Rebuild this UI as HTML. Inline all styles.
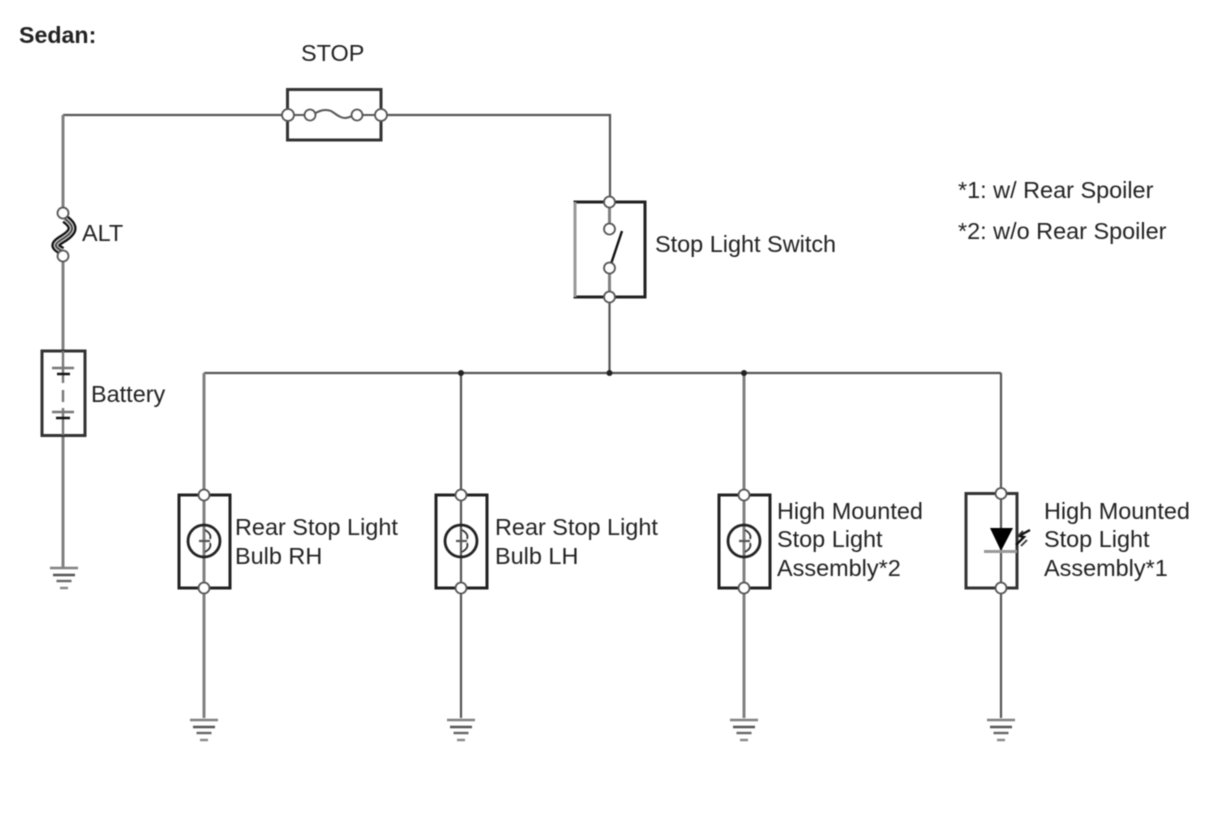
<!DOCTYPE html>
<html><head><meta charset="utf-8"><style>
html,body{margin:0;padding:0;background:#fff}
svg{display:block;filter:blur(.45px)}
text{font-family:"Liberation Sans",sans-serif;font-size:23.45px;fill:#222}
.w{stroke:#555;stroke-width:2.2;fill:none}
.g{stroke:#808080;stroke-width:3;fill:none}
.b{stroke:#333;stroke-width:3;fill:none}
.c{fill:#fff;stroke:#555;stroke-width:1.8}
.k{stroke:#222;stroke-width:3;fill:none}
</style></head><body>
<svg width="1210" height="814" viewBox="0 0 1210 814" xmlns="http://www.w3.org/2000/svg">
<defs>
<g id="gnd"><path d="M-14 0H14" stroke="#808080" stroke-width="2.600"/><path d="M-11 7H11" stroke="#555" stroke-width="2.400"/><path d="M-7.500 13H7.500" stroke="#666" stroke-width="2.400"/><path d="M-4 20H4" stroke="#888" stroke-width="2.400"/></g>
<g id="bulb"><circle r="16" fill="none" stroke="#222" stroke-width="2.800"/><path d="M1 -11Q8 -7 6 -2M6 2Q8 7 1 11" fill="none" stroke="#333" stroke-width="1.800"/><path d="M-5 0H6" stroke="#555" stroke-width="2.200"/></g>
</defs>

<text x="19" y="43" style="font-weight:bold;font-size:23.200px">Sedan:</text>
<text x="301" y="61">STOP</text>
<text x="82" y="241">ALT</text>
<text x="91" y="402">Battery</text>
<text x="655" y="252">Stop Light Switch</text>
<text x="958" y="198">*1: w/ Rear Spoiler</text>
<text x="958" y="239">*2: w/o Rear Spoiler</text>
<text x="235" y="535">Rear Stop Light</text>
<text x="235" y="564">Bulb RH</text>
<text x="495" y="535">Rear Stop Light</text>
<text x="495" y="564">Bulb LH</text>
<text x="777" y="519">High Mounted</text>
<text x="777" y="547">Stop Light</text>
<text x="777" y="576">Assembly*2</text>
<text x="1044" y="519">High Mounted</text>
<text x="1044" y="547">Stop Light</text>
<text x="1044" y="576">Assembly*1</text>

<!-- wires -->
<path class="w" d="M288 115H63"/>
<path class="g" d="M63 115V213"/>
<path class="w" d="M381 115H610V202"/>
<path class="g" d="M63 256V351M63 435V567"/>
<path class="g" d="M609.500 202V229M609.500 268V297"/>
<path class="w" d="M609.500 297V373"/>
<path class="w" d="M204 373H1001"/>
<path class="g" d="M204 373V718"/>
<path class="w" d="M461 373V718"/>
<path class="g" d="M744 373V718"/>
<path class="w" d="M1001 373V718"/>
<circle cx="461" cy="373" r="3" fill="#222"/>
<circle cx="609.500" cy="373" r="3" fill="#222"/>
<circle cx="744" cy="373" r="3" fill="#222"/>

<!-- STOP fuse -->
<rect class="b" x="287.500" y="89.500" width="93.500" height="50.500"/>
<path d="M288 115H310M314 114C320 110 326 109 331 111C336 114 340 118 345 118C349 118 351 116 355 115M357 115H381" stroke="#555" stroke-width="2" fill="none"/>
<circle class="c" cx="288" cy="115" r="6"/>
<circle class="c" cx="310" cy="115" r="5.500"/>
<circle class="c" cx="357" cy="115" r="5.500"/>
<circle class="c" cx="381" cy="115" r="6"/>

<!-- ALT fuse -->
<path d="M65 219C76 227 73 232 64 238C54 244 53 246 62 251" fill="none" stroke="#111" stroke-width="9"/>
<path d="M65 219C76 227 73 232 64 238C54 244 53 246 62 251" fill="none" stroke="#ccc" stroke-width="4.500"/>
<path d="M65 219C76 227 73 232 64 238C54 244 53 246 62 251" fill="none" stroke="#444" stroke-width="1.800"/>
<circle class="c" cx="63" cy="213" r="5.500"/>
<circle class="c" cx="63" cy="256" r="5.500"/>

<!-- Battery -->
<rect class="b" x="42" y="351" width="43" height="84.500"/>
<path d="M63 351V383M63 390V402M63 408V435" stroke="#777" stroke-width="2.400"/>
<path d="M52 368H74M52 412H74" stroke="#777" stroke-width="2.400"/>
<path d="M57 374H70M56 418H70" stroke="#111" stroke-width="2.600"/>
<use href="#gnd" x="64" y="568"/>

<!-- Switch -->
<rect class="k" x="575" y="202" width="70" height="95"/>
<path d="M575 202V297" stroke="#999" stroke-width="3"/>
<path d="M611 264L622 231" stroke="#111" stroke-width="2.400"/>
<circle class="c" cx="609.500" cy="202" r="5.500"/>
<circle class="c" cx="609.500" cy="229" r="5.500"/>
<circle class="c" cx="609.500" cy="268" r="5.500"/>
<circle class="c" cx="609.500" cy="297" r="5.500"/>

<!-- Bulbs -->
<rect class="k" x="179" y="495" width="51" height="93"/>
<use href="#bulb" x="204" y="541"/>
<circle class="c" cx="204" cy="495" r="5.500"/><circle class="c" cx="204" cy="588" r="5.500"/>
<rect class="k" x="436" y="495" width="51" height="93"/>
<use href="#bulb" x="461" y="541"/>
<circle class="c" cx="461" cy="495" r="5.500"/><circle class="c" cx="461" cy="588" r="5.500"/>
<rect class="k" x="719" y="495" width="51" height="93"/>
<use href="#bulb" x="744" y="541"/>
<circle class="c" cx="744" cy="495" r="5.500"/><circle class="c" cx="744" cy="588" r="5.500"/>

<!-- LED -->
<rect class="b" x="966" y="493.500" width="51" height="94.500"/>
<path d="M990 528H1013L1001 551Z" fill="#000"/>
<path d="M984 551.500H1017" stroke="#999" stroke-width="3"/>
<path d="M1016 545L1024 537L1019 536L1030 530" stroke="#111" stroke-width="2.400" fill="none"/>
<path d="M1016 538L1023 531M1021 546L1027 540" stroke="#333" stroke-width="1.800" fill="none"/>
<circle class="c" cx="1001" cy="493.500" r="5.500"/><circle class="c" cx="1001" cy="588" r="5.500"/>

<!-- Grounds -->
<use href="#gnd" x="204" y="720"/>
<use href="#gnd" x="461" y="720"/>
<use href="#gnd" x="744" y="720"/>
<use href="#gnd" x="1001" y="720"/>
</svg>
</body></html>
